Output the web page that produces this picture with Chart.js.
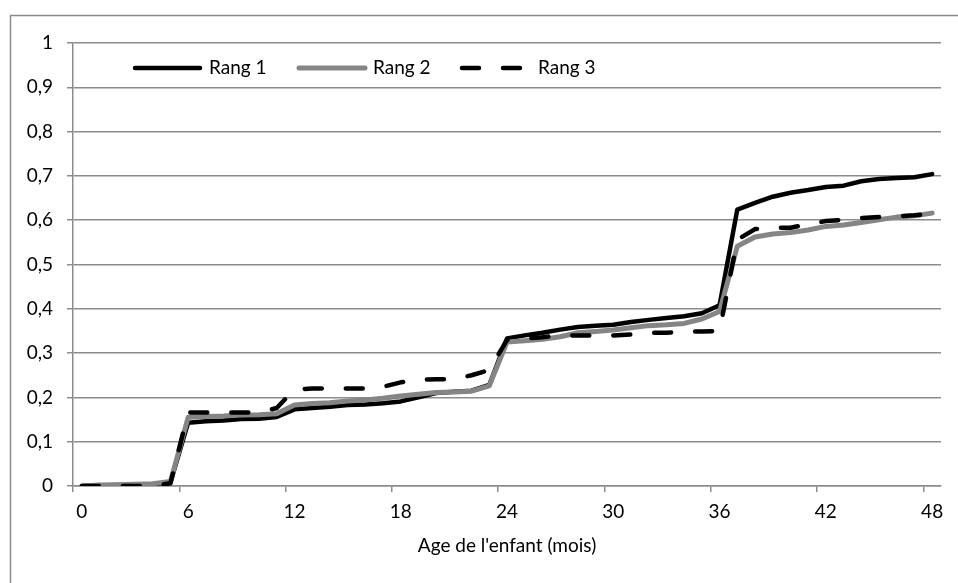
<!DOCTYPE html>
<html>
<head>
<meta charset="utf-8">
<script src="https://cdn.jsdelivr.net/npm/chart.js@4.4.0/dist/chart.umd.min.js"></script>
<style>
  html, body { margin: 0; padding: 0; background: #fff; }
  #wrap { width: 958px; height: 583px; position: relative; }
</style>
</head>
<body>
<div id="wrap"><canvas id="myChart"></canvas></div>
<script>
// mois (catégories de l'axe X)
const months = [0, 1, 2, 3, 4, 5, 6, 7, 8, 9, 10, 11, 12, 13, 14, 15, 16, 17, 18, 19, 20, 21, 22, 23, 24,
  25, 26, 27, 28, 29, 30, 31, 32, 33, 34, 35, 36, 37, 38, 39, 40, 41, 42, 43, 44, 45, 46, 47, 48];

const rang1 = [0, 0.001, 0.002, 0.003, 0.004, 0.008, 0.143, 0.146, 0.148, 0.151, 0.152, 0.156,
  0.173, 0.176, 0.179, 0.183, 0.184, 0.187, 0.191, 0.200, 0.210, 0.213, 0.215, 0.228,
  0.333, 0.340, 0.346, 0.353, 0.359, 0.362, 0.364, 0.370, 0.375, 0.379, 0.383, 0.390,
  0.408, 0.624, 0.639, 0.653, 0.662, 0.668, 0.675, 0.678, 0.688, 0.693, 0.695, 0.697, 0.704];

const rang2 = [0, 0.002, 0.003, 0.004, 0.005, 0.010, 0.155, 0.157, 0.158, 0.160, 0.161, 0.163,
  0.183, 0.186, 0.188, 0.192, 0.194, 0.198, 0.203, 0.207, 0.211, 0.212, 0.214, 0.226,
  0.325, 0.328, 0.331, 0.337, 0.346, 0.349, 0.352, 0.357, 0.362, 0.364, 0.367, 0.377,
  0.394, 0.541, 0.562, 0.569, 0.572, 0.578, 0.586, 0.589, 0.595, 0.601, 0.607, 0.610, 0.616];

const rang3 = [0, 0, 0, 0, 0, 0.006, 0.166, 0.166, 0.166, 0.166, 0.166, 0.176,
  0.218, 0.220, 0.220, 0.220, 0.220, 0.224, 0.234, 0.240, 0.241, 0.241, 0.250, 0.262,
  0.330, 0.333, 0.336, 0.340, 0.340, 0.340, 0.340, 0.342, 0.346, 0.346, 0.348, 0.349,
  0.350, 0.556, 0.580, 0.583, 0.583, 0.591, 0.598, 0.601, 0.605, 0.607, 0.609, 0.611, 0.615];

const yTickLabels = ['0', '0,1', '0,2', '0,3', '0,4', '0,5', '0,6', '0,7', '0,8', '0,9', '1'];

const gridColor = '#8c8c8c';
const grayLine = '#858585';

// cadre extérieur + légende dans la zone du graphique
const frameAndLegend = {
  id: 'frameAndLegend',
  beforeDraw(chart) {
    const c = chart.ctx;
    c.save();
    c.strokeStyle = gridColor;
    c.lineWidth = 1.5;
    c.strokeRect(10.5, 15.5, 1200, 1200);
    c.restore();
  },
  afterDraw(chart) {
    const c = chart.ctx;
    const y = 68;
    const items = [
      { x0: 135, x1: 200, tx: 209 },
      { x0: 299, x1: 365, tx: 373 },
      { x0: 462, x1: 521, tx: 538 }
    ];
    c.save();
    chart.data.datasets.forEach((ds, i) => {
      const it = items[i];
      c.beginPath();
      c.strokeStyle = ds.borderColor;
      c.lineWidth = ds.borderWidth;
      c.lineCap = 'round';
      c.setLineDash(ds.borderDash || []);
      c.moveTo(it.x0, y);
      c.lineTo(it.x1, y);
      c.stroke();
      c.setLineDash([]);
      c.fillStyle = '#000';
      c.font = '19px Lato';
      c.textBaseline = 'middle';
      c.textAlign = 'left';
      c.fillText(ds.label, it.tx, y);
    });
    c.restore();
  }
};

const ctx = document.getElementById('myChart').getContext('2d');
new Chart(ctx, {
  type: 'line',
  data: {
    labels: months,
    datasets: [
      { label: 'Rang 1', data: rang1, borderColor: '#000', borderWidth: 4.5, order: 3 },
      { label: 'Rang 2', data: rang2, borderColor: grayLine, borderWidth: 5, order: 2 },
      { label: 'Rang 3', data: rang3, borderColor: '#000', borderWidth: 4.5, borderDash: [17, 24], order: 1 }
    ]
  },
  options: {
    responsive: true,
    maintainAspectRatio: false,
    animation: false,
    layout: { padding: { top: 43, right: 17, bottom: 0, left: 0 } },
    elements: {
      point: { radius: 0, hoverRadius: 0 },
      line: { tension: 0, fill: false, borderCapStyle: 'round', borderJoinStyle: 'round' }
    },
    plugins: {
      legend: { display: false },
      tooltip: { enabled: false }
    },
    scales: {
      x: {
        type: 'category',
        offset: true,
        grid: {
          offset: true,
          drawOnChartArea: false,
          drawTicks: true,
          tickLength: 6,
          lineWidth: 1.5,
          color: gridColor,
          tickColor: (c) => (c.index !== undefined && c.type === 'tick' && months[c.index] % 6 === 0) ? gridColor : 'rgba(0,0,0,0)'
        },
        border: { color: gridColor, width: 1.5 },
        ticks: {
          autoSkip: false,
          maxRotation: 0,
          padding: 8,
          color: '#000',
          font: { family: 'Lato', size: 19 },
          callback: (v, i) => (months[i] % 6 === 0 ? String(months[i]) : '')
        },
        title: {
          display: true,
          text: "Age de l'enfant (mois)",
          color: '#000',
          font: { family: 'Lato', size: 19 },
          padding: { top: 0, bottom: 26 }
        },
        afterFit: (s) => { s.height = 97; }
      },
      y: {
        min: 0,
        max: 1,
        grid: { color: gridColor, lineWidth: 1.5, tickLength: 6 },
        border: { color: gridColor, width: 1.5 },
        ticks: {
          stepSize: 0.1,
          padding: 14,
          color: '#000',
          font: { family: 'Lato', size: 19 },
          callback: (v, i) => yTickLabels[i]
        },
        afterFit: (s) => { s.width = 73; }
      }
    }
  },
  plugins: [frameAndLegend]
});
</script>
</body>
</html>
